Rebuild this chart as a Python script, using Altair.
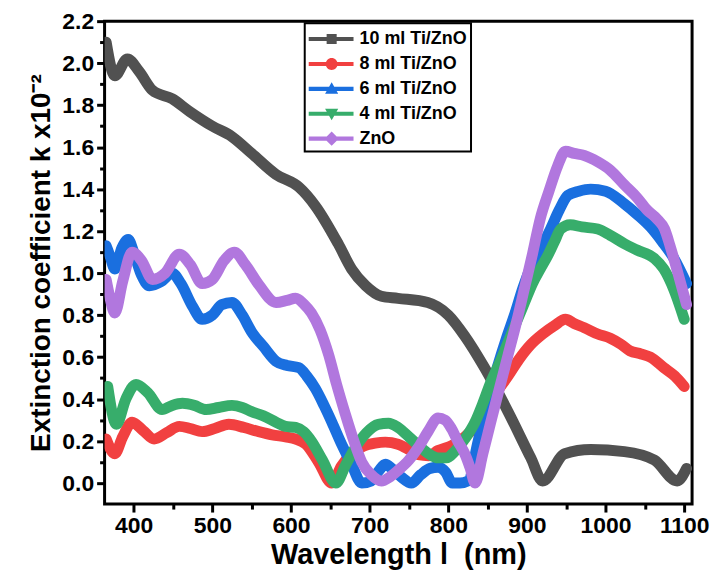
import altair as alt
import pandas as pd

series = ["10 ml Ti/ZnO", "8 ml Ti/ZnO", "6 ml Ti/ZnO", "4 ml Ti/ZnO", "ZnO"]
colors = ["#515151", "#F14040", "#1A6FDF", "#37AD6B", "#B177DE"]

wl_10 = [365, 376, 392, 407, 424, 449, 471, 500, 525, 550, 581, 610, 631, 660, 677, 695, 715, 736, 774, 800, 821, 846, 876, 905, 920, 948, 981, 1024, 1062, 1091, 1103]
k_10 = [2.10, 1.94, 2.02, 1.96, 1.87, 1.83, 1.77, 1.70, 1.65, 1.57, 1.47, 1.41, 1.32, 1.14, 1.02, 0.94, 0.89, 0.88, 0.86, 0.80, 0.70, 0.55, 0.34, 0.12, 0.01, 0.14, 0.16, 0.15, 0.11, 0.01, 0.07]

wl_8 = [365, 376, 386, 398, 412, 426, 442, 458, 472, 487, 503, 521, 540, 559, 576, 593, 606, 619, 635, 652, 664, 677, 692, 707, 720, 736, 750, 762, 775, 787, 805, 821, 834, 846, 861, 876, 890, 905, 920, 935, 949, 960, 973, 990, 1006, 1020, 1031, 1045, 1057, 1074, 1088, 1100]
k_8 = [0.21, 0.14, 0.22, 0.29, 0.25, 0.21, 0.24, 0.27, 0.26, 0.245, 0.26, 0.28, 0.265, 0.245, 0.23, 0.22, 0.21, 0.185, 0.10, 0.0, 0.08, 0.14, 0.175, 0.19, 0.195, 0.185, 0.16, 0.135, 0.13, 0.155, 0.18, 0.22, 0.27, 0.34, 0.43, 0.51, 0.59, 0.66, 0.71, 0.75, 0.78, 0.76, 0.74, 0.71, 0.69, 0.66, 0.63, 0.615, 0.60, 0.55, 0.51, 0.46]

wl_6 = [365, 370, 376, 385, 393, 400, 410, 420, 435, 449, 460, 475, 487, 500, 512, 525, 538, 550, 565, 581, 595, 610, 620, 631, 642, 652, 665, 677, 690, 702, 712, 720, 728, 740, 753, 765, 777, 787, 797, 805, 815, 825, 838, 850, 863, 874, 885, 895, 905, 918, 930, 941, 952, 966, 981, 1000, 1024, 1040, 1057, 1072, 1087, 1103]
k_6 = [1.13, 1.08, 1.02, 1.12, 1.16, 1.10, 0.99, 0.94, 0.96, 1.00, 0.95, 0.84, 0.78, 0.80, 0.85, 0.86, 0.80, 0.72, 0.65, 0.58, 0.56, 0.55, 0.51, 0.45, 0.37, 0.29, 0.18, 0.09, 0.0, 0.01, 0.06, 0.09, 0.07, 0.03, 0.0, 0.04, 0.07, 0.075, 0.05, 0.0, 0.0, 0.01, 0.20, 0.39, 0.56, 0.69, 0.81, 0.93, 1.03, 1.12, 1.21, 1.30, 1.37, 1.39, 1.40, 1.39, 1.33, 1.28, 1.22, 1.15, 1.07, 0.95]

wl_4 = [367, 378, 390, 403, 418, 436, 449, 462, 477, 492, 508, 525, 538, 550, 565, 581, 593, 606, 616, 626, 640, 657, 670, 682, 696, 711, 724, 736, 750, 762, 775, 787, 798, 808, 821, 834, 844, 854, 865, 876, 887, 897, 907, 917, 926, 935, 943, 955, 970, 990, 1006, 1024, 1040, 1062, 1074, 1087, 1100]
k_4 = [0.46, 0.28, 0.40, 0.47, 0.43, 0.35, 0.37, 0.38, 0.37, 0.35, 0.36, 0.37, 0.36, 0.34, 0.32, 0.29, 0.27, 0.265, 0.245, 0.20, 0.11, 0.0, 0.09, 0.17, 0.24, 0.28, 0.285, 0.265, 0.22, 0.18, 0.14, 0.12, 0.12, 0.15, 0.21, 0.29, 0.38, 0.48, 0.57, 0.67, 0.77, 0.86, 0.95, 1.02, 1.08, 1.15, 1.21, 1.23, 1.22, 1.21, 1.18, 1.14, 1.11, 1.07, 1.02, 0.92, 0.78]

wl_0 = [365, 370, 376, 386, 398, 410, 424, 440, 458, 472, 487, 500, 515, 528, 542, 560, 581, 595, 606, 617, 626, 637, 648, 658, 669, 680, 690, 702, 715, 726, 736, 750, 762, 775, 787, 796, 804, 812, 821, 828, 834, 844, 854, 865, 876, 887, 897, 907, 917, 928, 939, 949, 960, 973, 990, 1006, 1024, 1040, 1053, 1065, 1075, 1082, 1092, 1103]
k_0 = [0.97, 0.88, 0.81, 0.96, 1.10, 1.06, 0.97, 1.00, 1.09, 1.04, 0.95, 0.97, 1.06, 1.10, 1.04, 0.94, 0.86, 0.87, 0.88, 0.85, 0.81, 0.73, 0.61, 0.47, 0.33, 0.20, 0.10, 0.04, 0.01, 0.03, 0.06, 0.11, 0.17, 0.25, 0.31, 0.30, 0.26, 0.20, 0.14, 0.07, 0.0, 0.14, 0.29, 0.45, 0.61, 0.77, 0.93, 1.09, 1.26, 1.39, 1.51, 1.58, 1.57, 1.56, 1.53, 1.49, 1.42, 1.36, 1.30, 1.26, 1.21, 1.13, 1.00, 0.85]

x_major = [400, 500, 600, 700, 800, 900, 1000, 1100]
x_minor = [450, 550, 650, 750, 850, 950, 1050]
y_major = [0.0, 0.2, 0.4, 0.6, 0.8, 1.0, 1.2, 1.4, 1.6, 1.8, 2.0, 2.2]
y_minor = [0.1, 0.3, 0.5, 0.7, 0.9, 1.1, 1.3, 1.5, 1.7, 1.9, 2.1]

# legend symbols (unit = 12 px): a line segment with the series marker on it
bar = "M-1,-0.17H2.75V0.17H-1Z"
paths = [
    bar + "M0.5,-0.42H1.34V0.42H0.5Z",
    bar + "M0.42,0A0.5,0.5 0 1,1 1.42,0A0.5,0.5 0 1,1 0.42,0Z",
    bar + "M0.92,-0.55L1.47,0.42L0.37,0.42Z",
    bar + "M0.37,-0.42L1.47,-0.42L0.92,0.55Z",
    bar + "M0.92,-0.6L1.52,0L0.92,0.6L0.32,0Z",
]

data_sets = [(wl_10, k_10), (wl_8, k_8), (wl_6, k_6), (wl_4, k_4), (wl_0, k_0)]
rows = []
for name, col, (xs, ys) in zip(series, colors, data_sets):
    for x, y in zip(xs, ys):
        rows.append({"series": name, "col": col, "wl": x, "k": y})
df = pd.DataFrame(rows)

FONT = "Liberation Sans"
xscale = alt.Scale(domain=[363, 1110], nice=False, zero=False)
yscale = alt.Scale(domain=[-0.1, 2.2], nice=False, zero=False)

common = dict(domain=False, grid=False, tickColor="black", tickWidth=3)

x_axis = alt.Axis(values=x_major, format="d", title="Wavelength l\u00a0 (nm)", orient="bottom", tickSize=8,
                  labelFont=FONT, labelFontSize=23, labelFontWeight="bold", labelColor="black",
                  labelPadding=3, titleFont=FONT, titleFontSize=29, titleFontWeight="bold",
                  titleColor="black", titlePadding=3, **common)
y_axis = alt.Axis(values=y_major, format=".1f", title="Extinction coefficient k x10⁻²", orient="left",
                  tickSize=8, labelFont=FONT, labelFontSize=23, labelFontWeight="bold",
                  labelColor="black", labelPadding=3, titleFont=FONT, titleFontSize=28,
                  titleFontWeight="bold", titleColor="black", titlePadding=6, **common)
x_axis_minor = alt.Axis(values=x_minor, labels=False, title=None, orient="bottom", tickSize=5, **common)
y_axis_minor = alt.Axis(values=y_minor, labels=False, title=None, orient="left", tickSize=5, **common)

lines = alt.Chart(df).mark_line(strokeWidth=11, interpolate="monotone", clip=True,
                                strokeCap="round", strokeJoin="round").encode(
    x=alt.X("wl:Q", scale=xscale, axis=x_axis),
    y=alt.Y("k:Q", scale=yscale, axis=y_axis),
    detail="series:N",
    stroke=alt.Stroke("col:N", scale=None),
)

leg = alt.Legend(title=None, orient="none", legendX=201, legendY=2)
legend_layer = alt.Chart(df).transform_filter("datum.k > 100").mark_point(
    filled=True, opacity=1, size=576).encode(
    x=alt.X("wl:Q", scale=xscale, axis=x_axis_minor),
    y=alt.Y("k:Q", scale=yscale, axis=y_axis_minor),
    color=alt.Color("series:N", scale=alt.Scale(domain=series, range=colors), legend=leg),
    shape=alt.Shape("series:N", scale=alt.Scale(domain=series, range=paths), legend=leg),
)

chart = alt.layer(lines, legend_layer).resolve_axis(x="independent", y="independent").properties(
    width=590, height=485,
    autosize=alt.AutoSizeParams(type="none"),
    padding={"left": 97, "top": 12, "right": 18, "bottom": 65},
).configure_view(stroke="black", strokeWidth=3).configure_legend(
    strokeColor="black", strokeWidth=2, padding=4, symbolSize=576, symbolStrokeWidth=0,
    labelFont=FONT, labelFontSize=18, labelFontWeight="bold", labelColor="black",
    labelOffset=27, rowPadding=4, fillColor="white",
)

chart.save("out.html", embed_options={"renderer": "svg", "actions": False})
